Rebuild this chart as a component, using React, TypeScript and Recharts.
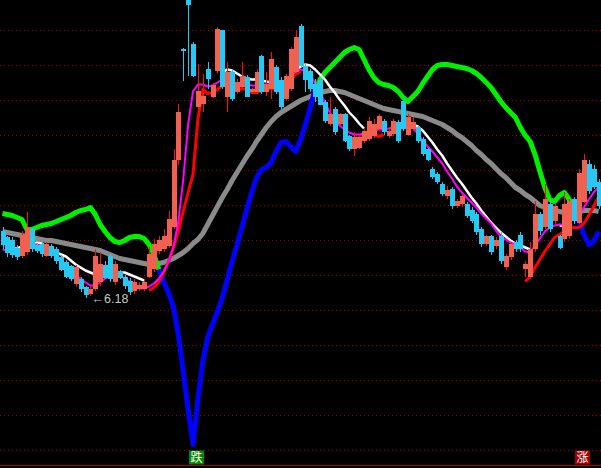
import { ComposedChart, Bar, Line, XAxis, YAxis, ReferenceLine, ReferenceDot } from "recharts";

const n = null;

// candles
const open = [
  6.84, 6.78, 6.75, 6.68, 6.59, 6.63, 6.86, 6.70, 6.71, 6.60,
  6.69, 6.66, 6.58, 6.53, 6.49, 6.31, 6.36, 6.28, 6.21, 6.26,
  6.33, 6.51, 6.59, 6.33, 6.44, 6.38, 6.35, 6.24, 6.26, 6.26,
  6.39, 6.46, 6.64, 6.66, 6.69, 6.88, 7.56, 8.66, 9.15, 8.71,
  8.08, 8.11, 8.46, 8.19, 8.44, 8.86, 8.18, 8.44, 8.23, 8.29,
  8.38, 8.23, 8.23, 8.59, 8.23, 8.26, 8.48, 8.36, 8.16, 8.26,
  8.43, 8.89, 8.49, 8.44, 8.31, 8.36, 8.13, 7.91, 8.06, 7.91,
  8.01, 7.79, 7.66, 7.68, 7.74, 7.76, 7.79, 7.86, 7.94, 7.79,
  7.81, 7.93, 8.14, 7.81, 7.86, 7.88, 7.76, 7.66, 7.46, 7.41,
  7.31, 7.19, 7.26, 7.09, 7.11, 7.11, 7.06, 7.01, 6.86, 6.71,
  6.79, 6.69, 6.79, 6.48, 6.59, 6.73, 6.81, 6.46, 6.39, 6.66,
  7.01, 6.88, 7.11, 6.94, 6.79, 6.76, 6.79, 7.16, 6.93, 7.14,
  7.51, 7.46, 7.33,
];
const close = [
  6.70, 6.62, 6.60, 6.58, 6.80, 6.88, 6.66, 6.64, 6.61, 6.71,
  6.59, 6.54, 6.46, 6.39, 6.36, 6.48, 6.26, 6.20, 6.27, 6.59,
  6.51, 6.38, 6.36, 6.51, 6.38, 6.29, 6.23, 6.34, 6.31, 6.33,
  6.61, 6.71, 6.76, 6.79, 6.96, 7.56, 8.04, 8.64, 9.10, 8.39,
  8.24, 8.20, 8.36, 8.30, 8.86, 8.28, 8.43, 8.16, 8.33, 8.39,
  8.19, 8.26, 8.44, 8.23, 8.31, 8.56, 8.23, 8.08, 8.39, 8.66,
  8.79, 8.49, 8.36, 8.26, 8.18, 8.11, 7.94, 8.01, 7.83, 8.01,
  7.74, 7.66, 7.78, 7.78, 7.84, 7.94, 7.91, 7.99, 7.83, 7.84,
  7.94, 7.74, 7.86, 7.98, 7.93, 7.74, 7.61, 7.56, 7.38, 7.33,
  7.21, 7.26, 7.09, 7.14, 7.19, 6.99, 6.94, 6.83, 6.71, 6.79,
  6.63, 6.76, 6.54, 6.59, 6.71, 6.66, 6.66, 6.51, 6.66, 7.01,
  6.84, 7.16, 6.86, 7.09, 6.68, 7.11, 7.14, 6.94, 7.43, 7.56,
  7.24, 7.28, 7.09,
];
const high = [
  6.88, 6.80, 6.78, 6.70, 6.84, 7.03, 6.88, 6.72, 6.73, 6.73,
  6.71, 6.68, 6.60, 6.55, 6.51, 6.51, 6.38, 6.30, 6.29, 6.66,
  6.63, 6.54, 6.61, 6.54, 6.46, 6.40, 6.37, 6.36, 6.33, 6.36,
  6.68, 6.76, 6.80, 6.86, 7.04, 7.66, 8.11, 8.67, 9.15, 8.73,
  8.51, 8.41, 8.53, 8.32, 8.88, 8.86, 8.54, 8.46, 8.36, 8.54,
  8.40, 8.28, 8.46, 8.61, 8.43, 8.63, 8.50, 8.38, 8.41, 8.68,
  8.84, 8.91, 8.51, 8.46, 8.36, 8.38, 8.15, 8.18, 8.08, 8.03,
  8.03, 7.81, 7.83, 7.80, 7.86, 7.98, 7.96, 8.01, 7.96, 7.86,
  7.96, 7.95, 8.16, 8.01, 7.98, 7.90, 7.78, 7.68, 7.48, 7.43,
  7.33, 7.29, 7.28, 7.16, 7.22, 7.13, 7.08, 7.03, 6.88, 6.81,
  6.81, 6.78, 6.84, 6.61, 6.73, 6.75, 6.83, 6.54, 6.73, 7.14,
  7.03, 7.31, 7.16, 7.11, 6.81, 7.23, 7.16, 7.18, 7.46, 7.61,
  7.56, 7.51, 7.36,
];
const low = [
  6.66, 6.59, 6.57, 6.56, 6.57, 6.60, 6.64, 6.62, 6.58, 6.58,
  6.57, 6.52, 6.44, 6.37, 6.34, 6.28, 6.23, 6.18, 6.19, 6.24,
  6.29, 6.36, 6.33, 6.31, 6.36, 6.27, 6.20, 6.22, 6.24, 6.24,
  6.37, 6.43, 6.61, 6.64, 6.67, 6.86, 7.51, 8.34, 8.39, 8.38,
  8.06, 8.04, 8.26, 8.17, 8.42, 8.26, 8.04, 8.14, 8.21, 8.26,
  8.18, 8.21, 8.21, 8.21, 8.19, 8.16, 8.21, 8.06, 8.14, 8.24,
  8.41, 8.47, 8.23, 8.23, 8.13, 8.10, 7.92, 7.89, 7.81, 7.89,
  7.73, 7.64, 7.59, 7.66, 7.72, 7.74, 7.77, 7.84, 7.81, 7.77,
  7.79, 7.72, 7.84, 7.79, 7.84, 7.72, 7.59, 7.54, 7.36, 7.31,
  7.19, 7.16, 7.06, 7.07, 7.08, 6.97, 6.92, 6.81, 6.68, 6.69,
  6.60, 6.66, 6.52, 6.46, 6.56, 6.64, 6.64, 6.38, 6.36, 6.64,
  6.81, 6.86, 6.83, 6.91, 6.66, 6.73, 6.76, 6.91, 6.91, 7.12,
  7.21, 7.26, 7.06,
];

// white line
const maShort = [
  n, n, 6.67, 6.67, 6.69, 6.71, 6.72, 6.73, 6.72, 6.69,
  6.66, 6.63, 6.61, 6.59, 6.55, 6.51, 6.48, 6.45, 6.43, 6.41,
  6.40, 6.40, 6.41, 6.42, 6.43, 6.43, 6.41, 6.39, 6.37, 6.35,
  n, n, n, n, n, n, n, n, n, n,
  n, n, n, n, n, 8.43, 8.46, 8.45, 8.42, 8.39,
  8.37, 8.36, 8.36, 8.35, 8.34, 8.33, 8.32, 8.32, 8.34, 8.38,
  8.44, 8.49, 8.51, 8.50, 8.46, 8.41, 8.36, 8.29, 8.23, 8.16,
  8.10, 8.03, 7.98, 7.92, 7.87, n, n, n, n, n,
  n, n, n, 7.92, 7.91, 7.89, 7.85, 7.79, 7.73, 7.66,
  7.60, 7.52, 7.45, 7.38, 7.32, 7.25, 7.18, 7.12, 7.05, 6.99,
  6.93, 6.88, 6.83, 6.79, 6.75, 6.72, 6.70, 6.68, 6.66, n,
  n, n, n, n, 6.90, 6.90, n, n, n, n,
  n, n, n,
];

// magenta line
const maMid = [
  6.66, 6.65, 6.64, 6.64, 6.66, 6.69, 6.71, 6.71, 6.69, 6.67,
  6.65, 6.61, 6.55, 6.49, 6.44, 6.40, 6.37, 6.33, 6.30, 6.30,
  6.33, 6.37, 6.39, 6.40, 6.40, 6.37, 6.34, 6.30, 6.27, 6.27,
  6.29, 6.32, 6.37, 6.44, 6.54, 6.69, 6.94, 7.36, 7.91, 8.24,
  8.31, 8.31, 8.29, 8.30, 8.33, 8.36, 8.37, 8.34, 8.32, 8.32,
  8.31, 8.30, 8.30, 8.31, 8.31, 8.31, 8.32, 8.33, 8.36, 8.40,
  8.44, 8.46, 8.45, 8.41, 8.32, 8.23, 8.13, 8.03, 7.96, 7.90,
  7.86, 7.83, 7.81, 7.81, 7.82, 7.84, 7.85, 7.86, 7.86, 7.87,
  7.88, 7.89, 7.90, 7.90, 7.88, 7.82, 7.75, 7.69, 7.64, 7.58,
  7.52, 7.44, 7.37, 7.29, 7.23, 7.18, 7.13, 7.08, 7.02, 6.97,
  6.92, 6.85, 6.79, 6.76, 6.73, 6.71, 6.68, 6.64, 6.63, 6.70,
  6.77, 6.84, 6.88, 6.90, 6.91, 6.91, 6.94, 6.97, 7.02, 7.08,
  7.16, 7.23, 7.28,
];

// red trend line
const trend = [
  n, n, n, n, n, n, n, n, n, n,
  n, n, n, n, n, n, n, n, n, n,
  n, n, n, n, n, n, n, n, n, n,
  6.25, 6.28, 6.34, 6.43, 6.54, 6.68, 6.84, 7.04, 7.23, 7.41,
  7.96, 8.26, 8.22, 8.23, 8.26, 8.30, 8.31, 8.28, 8.25, 8.27,
  8.26, 8.23, 8.23, 8.25, 8.27, 8.27, 8.26, 8.28, 8.31, 8.36,
  8.41, 8.44, n, n, n, n, n, n, n, n,
  n, n, n, 7.80, 7.81, 7.83, 7.81, 7.79, 7.81, n,
  n, n, n, n, n, n, n, n, n, n,
  n, n, n, n, n, n, n, n, n, n,
  n, n, n, n, n, n, n, 6.34, 6.39, 6.48,
  6.56, 6.64, 6.71, 6.78, 6.81, 6.84, 6.87, 6.88, 6.88, 6.92,
  7.00, 7.09, 7.19,
];

// gray line
const maLong = [
  6.84, 6.83, 6.82, 6.81, 6.80, 6.79, 6.78, 6.77, 6.76, 6.75,
  6.75, 6.74, 6.73, 6.72, 6.71, 6.70, 6.69, 6.68, 6.67, 6.66,
  6.65, 6.63, 6.61, 6.59, 6.57, 6.56, 6.55, 6.54, 6.53, 6.52,
  6.51, 6.51, 6.52, 6.53, 6.55, 6.57, 6.60, 6.63, 6.67, 6.72,
  6.76, 6.82, 6.91, 7.00, 7.09, 7.18, 7.26, 7.35, 7.43, 7.51,
  7.59, 7.66, 7.74, 7.81, 7.88, 7.94, 7.99, 8.03, 8.06, 8.09,
  8.12, 8.15, 8.17, 8.19, 8.21, 8.23, 8.24, 8.25, 8.25, 8.24,
  8.23, 8.21, 8.19, 8.17, 8.15, 8.13, 8.11, 8.09, 8.07, 8.06,
  8.05, 8.04, 8.03, 8.02, 8.01, 8.00, 7.99, 7.97, 7.95, 7.93,
  7.91, 7.88, 7.85, 7.81, 7.78, 7.74, 7.70, 7.65, 7.61, 7.56,
  7.52, 7.47, 7.42, 7.38, 7.33, 7.28, 7.25, 7.21, 7.18, 7.14,
  7.10, 7.08, 7.06, 7.05, 7.04, 7.03, 7.02, 7.03, 7.04, 7.05,
  7.05, 7.05, 7.04,
];

// green / blue indicator line
const signal = [
  7.02, 7.01, 7.00, 6.98, 6.96, 6.86, 6.86, 6.88, 6.90, 6.91,
  6.92, 6.94, 6.96, 6.98, 7.00, 7.03, 7.05, 7.06, 7.08, 7.01,
  6.91, 6.84, 6.78, 6.74, 6.73, 6.75, 6.78, 6.79, 6.79, 6.77,
  6.71, 6.61, 6.46, 6.33, 6.23, 6.08, 5.81, 5.44, 5.06, 4.71,
  5.16, 5.54, 5.78, 5.91, 6.04, 6.18, 6.36, 6.54, 6.71, 6.88,
  7.06, 7.23, 7.38, 7.46, 7.48, 7.53, 7.64, 7.73, 7.74, 7.69,
  7.64, 7.76, 7.91, 8.08, 8.26, 8.36, 8.43, 8.48, 8.53, 8.58,
  8.63, 8.66, 8.68, 8.66, 8.56, 8.46, 8.38, 8.33, 8.31, 8.30,
  8.28, 8.24, 8.18, 8.14, 8.19, 8.24, 8.32, 8.39, 8.46, 8.50,
  8.51, 8.51, 8.50, 8.49, 8.48, 8.47, 8.45, 8.42, 8.38, 8.33,
  8.28, 8.21, 8.14, 8.08, 8.03, 7.98, 7.88, 7.80, 7.74, 7.61,
  7.44, 7.28, 7.16, 7.14, 7.20, 7.23, 7.16, 7.04, 6.94, 6.81,
  6.71, 6.74, 6.84,
];
const upSpans = [[0, 32], [64, 117]];
const downSpans = [[32, 64], [117, 122]];

const gridTicks = [8.85, 8.5, 8.15, 7.8, 7.45, 7.1, 6.75, 6.4, 6.05, 5.7, 5.35, 5.0, 4.65];
const baseLine = 4.5;
const lowMark = { idx: 17, value: 6.18 };
const marks = [
  { idx: 39, text: "跌", fill: "#008800" },
  { idx: 118, text: "涨", fill: "#a00000" },
];
const markRow = 4.58;

const W = 601;
const H = 468;
const DOMAIN: [number, number] = [4.475, 9.155];

const inSpans = (i: number, spans: number[][]) => spans.some(([a, b]) => i >= a && i <= b);

const data = open.map((o, i) => ({
  i,
  o,
  c: close[i],
  h: high[i],
  l: low[i],
  range: [low[i], high[i]],
  white: maShort[i],
  magenta: maMid[i],
  red: trend[i],
  gray: maLong[i],
  green: inSpans(i, upSpans) ? signal[i] : null,
  blue: inSpans(i, downSpans) ? signal[i] : null,
}));

function Candle(props: any) {
  const { x, y, width, height } = props;
  const p = props.payload ?? props;
  if (x == null || y == null || p == null) return null;
  const { o, c, h, l } = p;
  const top = Math.min(y, y + height);
  const span = Math.abs(height);
  const toY = (v: number) => (h === l ? top : top + ((h - v) / (h - l)) * span);
  const up = c >= o;
  const cx = Math.round(x + width / 2);
  const bTop = Math.round(toY(Math.max(o, c)));
  const bBot = Math.round(toY(Math.min(o, c)));
  const wTop = Math.round(top);
  const wBot = Math.round(top + span);
  const body = up ? "#f2604f" : "#25c9f4";
  const wick = up ? "#ff1010" : "#25c9f4";
  return (
    <g>
      <rect x={cx} y={wTop} width={1} height={Math.max(1, wBot - wTop)} fill={wick} />
      <rect x={cx - 2} y={bTop} width={5} height={Math.max(1, bBot - bTop)} fill={body} />
    </g>
  );
}

const lineProps = { dot: false, activeDot: false, isAnimationActive: false, strokeLinejoin: "round" as const };

export default function App() {
  const margin = { top: 0, right: 0, bottom: 0, left: 0 };
  return (
    <div style={{ position: "relative", width: W, height: H, background: "#000" }}>
      <style>{"body{margin:0;background:#000}"}</style>
      {/* indicator lines underneath */}
      <div style={{ position: "absolute", left: 0, top: 0 }}>
        <ComposedChart width={W} height={H} data={data} margin={margin} barCategoryGap={0}>
          <XAxis dataKey="i" type="category" scale="band" hide />
          <YAxis type="number" hide domain={DOMAIN} allowDataOverflow />
          {gridTicks.map((v) => (
            <ReferenceLine key={v} y={v} stroke="#a00000" strokeDasharray="1 3" />
          ))}
          <ReferenceLine y={baseLine} stroke="#b00000" />
          <Line dataKey="gray" stroke="#8a8a8a" strokeWidth={5} {...lineProps} />
          <Line dataKey="green" stroke="#00f000" strokeWidth={5} {...lineProps} />
          <Line dataKey="blue" stroke="#0000ff" strokeWidth={5} {...lineProps} />
          <Line dataKey="white" stroke="#ffffff" strokeWidth={2.5} {...lineProps} />
          <Line dataKey="red" stroke="#ff0000" strokeWidth={3} {...lineProps} />
          <Line dataKey="magenta" stroke="#ff00ff" strokeWidth={2} {...lineProps} />
        </ComposedChart>
      </div>
      {/* candles and labels on top */}
      <div style={{ position: "absolute", left: 0, top: 0 }}>
        <ComposedChart width={W} height={H} data={data} margin={margin} barCategoryGap={0} barGap={0}>
          <XAxis dataKey="i" type="category" scale="band" hide />
          <YAxis type="number" hide domain={DOMAIN} allowDataOverflow />
          <Bar dataKey="range" shape={(p: any) => <Candle {...p} />} isAnimationActive={false} />
          <ReferenceDot
            x={lowMark.idx}
            y={lowMark.value}
            r={0}
            shape={(p: any) => (
              <text x={p.cx + 6} y={p.cy + 5} fill="#c8c8c8" fontSize={12.5} fontFamily="Liberation Sans, Arial, sans-serif">
                {"←" + lowMark.value.toFixed(2)}
              </text>
            )}
          />
          {marks.map((m) => (
            <ReferenceDot
              key={m.text}
              x={m.idx}
              y={markRow}
              r={0}
              shape={(p: any) => (
                <g>
                  <rect x={p.cx - 4} y={p.cy - 7} width={15} height={14} fill={m.fill} />
                  <text x={p.cx + 3.5} y={p.cy + 4.5} fill="#fff" fontSize={12} textAnchor="middle" fontFamily="Noto Sans CJK SC, sans-serif">
                    {m.text}
                  </text>
                </g>
              )}
            />
          ))}
        </ComposedChart>
      </div>
    </div>
  );
}
